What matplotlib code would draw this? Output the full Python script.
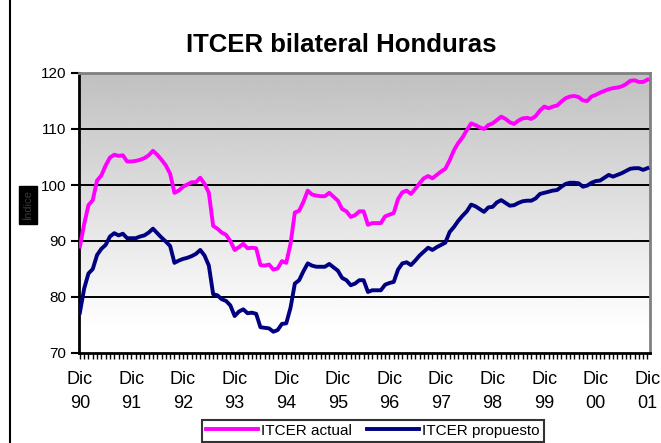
"""
ITCER bilateral Honduras: actual vs propuesto, monthly Dec 1990 - Dec 2001.
"""
import matplotlib

matplotlib.use("Agg")
import matplotlib.pyplot as plt
import numpy as np
from matplotlib.lines import Line2D

plt.rcParams["font.family"] = ["Liberation Sans", "DejaVu Sans"]

# monthly index values, Dic 90 .. Dic 01 (133 months)
itcer_actual = [
    89.0, 93.0, 96.4, 97.3, 100.8, 101.7, 103.5, 104.9, 105.4, 105.2,
    105.3, 104.2, 104.2, 104.3, 104.5, 104.8, 105.3, 106.1, 105.4, 104.5,
    103.5, 102.0, 98.6, 99.0, 99.7, 100.1, 100.5, 100.5, 101.3, 100.2,
    98.6, 92.7, 92.2, 91.5, 91.1, 90.0, 88.4, 88.9, 89.5, 88.7,
    88.8, 88.7, 85.7, 85.6, 85.8, 84.9, 85.1, 86.4, 86.1, 89.5,
    95.1, 95.4, 97.0, 99.0, 98.3, 98.1, 98.0, 98.0, 98.6, 97.9,
    97.2, 95.7, 95.3, 94.3, 94.6, 95.3, 95.3, 92.9, 93.2, 93.2,
    93.2, 94.4, 94.7, 95.0, 97.5, 98.7, 99.0, 98.4, 99.3, 100.3,
    101.2, 101.6, 101.2, 101.8, 102.4, 102.9, 104.4, 106.2, 107.5, 108.5,
    109.8, 111.0, 110.7, 110.3, 110.0, 110.7, 111.0, 111.6, 112.2, 111.8,
    111.2, 110.9, 111.5, 111.9, 112.0, 111.8, 112.3, 113.3, 114.0, 113.7,
    114.0, 114.2, 114.9, 115.5, 115.8, 115.9, 115.7, 115.1, 115.0, 115.8,
    116.1, 116.5, 116.8, 117.1, 117.3, 117.4, 117.6, 118.0, 118.6, 118.7,
    118.4, 118.4, 118.8,
]
itcer_propuesto = [
    77.2, 81.5, 84.2, 85.0, 87.5, 88.6, 89.3, 90.8, 91.4, 91.0,
    91.3, 90.5, 90.5, 90.5, 90.8, 91.0, 91.5, 92.2, 91.4, 90.6,
    89.9, 89.1, 86.1, 86.5, 86.8, 87.0, 87.3, 87.7, 88.4, 87.4,
    85.6, 80.5, 80.3, 79.6, 79.3, 78.5, 76.6, 77.4, 77.8, 77.1,
    77.2, 77.0, 74.6, 74.5, 74.4, 73.8, 74.1, 75.2, 75.3, 78.1,
    82.4, 83.0, 84.6, 86.0, 85.6, 85.4, 85.4, 85.4, 85.9, 85.3,
    84.7, 83.4, 83.0, 82.1, 82.4, 83.0, 83.0, 80.9, 81.2, 81.2,
    81.2, 82.2, 82.5, 82.7, 84.9, 86.0, 86.2, 85.7, 86.5, 87.4,
    88.1, 88.8, 88.4, 88.9, 89.3, 89.7, 91.6, 92.5, 93.6, 94.5,
    95.3, 96.5, 96.2, 95.7, 95.2, 96.0, 96.1, 96.9, 97.3, 96.8,
    96.3, 96.4, 96.8, 97.1, 97.2, 97.2, 97.6, 98.4, 98.6, 98.8,
    99.0, 99.1, 99.7, 100.2, 100.4, 100.4, 100.3, 99.7, 99.9, 100.4,
    100.7, 100.8, 101.3, 101.8, 101.5, 101.8, 102.1, 102.5, 102.9, 103.0,
    103.0, 102.7, 103.0,
]
year_labels = ["90", "91", "92", "93", "94", "95", "96", "97", "98", "99", "00", "01"]

months = np.arange(len(itcer_actual))

fig = plt.figure(figsize=(6.61, 4.43), dpi=100)
fig.patch.set_facecolor("white")
ax = fig.add_axes([79 / 661, 1 - 353 / 443, (650 - 79) / 661, (353 - 73) / 443])

x_lo, x_hi = -0.2, 132.6
y_lo, y_hi = 70, 120

# gray (top) to white (bottom) gradient of the plot area
yy = np.linspace(y_hi, y_lo, 256)
t = np.clip((y_hi - yy) / 46.0, 0, 1)
shade = 0.753 + (1.0 - 0.753) * t
img = np.repeat(shade[:, None], 2, axis=1)
ax.imshow(img, cmap="gray", vmin=0, vmax=1, aspect="auto",
          extent=[x_lo, x_hi, y_lo, y_hi], origin="upper", zorder=0)

for yv in [80, 90, 100, 110]:
    ax.axhline(yv, color="black", lw=1.4, zorder=1)

ax.plot(months, itcer_actual, color="#FF00FF", lw=2.8, zorder=3)
ax.plot(months, itcer_propuesto, color="#000080", lw=2.8, zorder=3)

ax.set_xlim(x_lo, x_hi)
ax.set_ylim(y_lo, y_hi)
ax.set_yticks(range(70, 121, 10))
ax.tick_params(axis="y", direction="out", length=6, width=1.5, labelsize=11, pad=3)
ax.set_xticks(np.arange(0, 133, 12))
ax.set_xticklabels([f"Dic\n{y}" for y in year_labels], linespacing=1.55)
ax.set_xticks(months, minor=True)
ax.tick_params(axis="x", which="both", direction="out", length=4, width=1.0, labelsize=13, pad=9)

ax.spines["left"].set_linewidth(2)
ax.spines["bottom"].set_linewidth(2)
ax.spines["top"].set_color("#808080")
ax.spines["right"].set_color("#808080")
ax.spines["top"].set_linewidth(2)
ax.spines["right"].set_linewidth(2)

fig.text(341 / 661, 1 - 45 / 443, "ITCER bilateral Honduras", ha="center", va="center",
         fontsize=18.5, fontweight="bold")

fig.text(28 / 661, 1 - 205 / 443, "Índice", rotation=90, ha="center", va="center",
         fontsize=8, color="#3a3a3a",
         bbox=dict(facecolor="black", edgecolor="black", pad=3))

# outer chart border on the left
fig.add_artist(Line2D([10 / 661, 10 / 661], [0, 1], color="black", lw=1.5))

handles = [Line2D([], [], color="#FF00FF", lw=2.8), Line2D([], [], color="#000080", lw=2.8)]
leg = fig.legend(handles, ["ITCER actual", "ITCER propuesto"], loc="upper center",
                 bbox_to_anchor=(373 / 661, 1 - 420 / 443), ncol=2, fontsize=11,
                 frameon=True, fancybox=False, handlelength=3.4, handletextpad=0.2,
                 columnspacing=1.0, borderpad=0.25, borderaxespad=0)
leg.get_frame().set_edgecolor("black")
leg.get_frame().set_linewidth(1.5)

fig.savefig("out.png", dpi=100)
